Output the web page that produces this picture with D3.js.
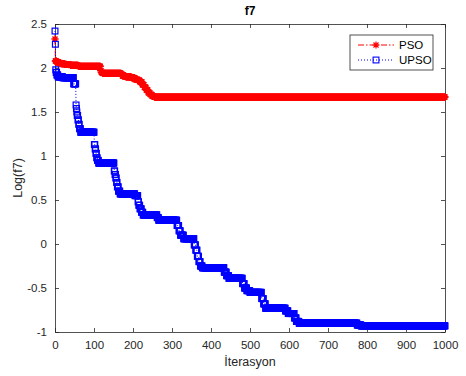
<!DOCTYPE html>
<html>
<head>
<meta charset="utf-8">
<script src="https://cdn.jsdelivr.net/npm/d3@7"></script>
<style>
  body { margin: 0; background: #fff; }
  text { font-family: "Liberation Sans", Arial, sans-serif; }
</style>
</head>
<body>
<div id="chart"></div>
<script>
// best-so-far values, [iteration, log10 value] where the value changes
const psoSteps = [
  [0, 2.33], [1, 2.08], [4, 2.07], [8, 2.06], [15, 2.05], [25, 2.04], [40, 2.03],
  [60, 2.02], [117, 1.97], [119, 1.95], [122, 1.94], [170, 1.93], [173, 1.91],
  [182, 1.9], [196, 1.89], [205, 1.87], [212, 1.86], [218, 1.84], [224, 1.81],
  [229, 1.78], [234, 1.75], [239, 1.72], [244, 1.7], [249, 1.68], [255, 1.67]
];
const upsoSteps = [
  [0, 2.42], [1, 2.27], [2, 1.98], [3, 1.95], [5, 1.92], [8, 1.9], [20, 1.89],
  [48, 1.82], [54, 1.58], [55, 1.54], [56, 1.5], [57, 1.46], [59, 1.41],
  [61, 1.36], [63, 1.31], [66, 1.27], [101, 1.13], [103, 1.08], [105, 1.03],
  [107, 0.98], [109, 0.95], [112, 0.92], [152, 0.83], [154, 0.79], [156, 0.75],
  [158, 0.7], [160, 0.65], [163, 0.6], [167, 0.57], [205, 0.55], [213, 0.48],
  [215, 0.44], [218, 0.4], [222, 0.36], [226, 0.33], [262, 0.3], [266, 0.27],
  [313, 0.21], [318, 0.15], [322, 0.1], [330, 0.06], [357, -0.01], [361, -0.07],
  [365, -0.14], [369, -0.2], [373, -0.25], [378, -0.27], [434, -0.32],
  [440, -0.36], [446, -0.39], [481, -0.45], [486, -0.5], [492, -0.53],
  [500, -0.55], [530, -0.62], [535, -0.68], [540, -0.73], [591, -0.76],
  [598, -0.79], [614, -0.84], [619, -0.88], [626, -0.9], [775, -0.92], [785, -0.93]
];
const lastIter = 1000;
const xTicks = [0, 100, 200, 300, 400, 500, 600, 700, 800, 900, 1000];
const yTicks = [-1, -0.5, 0, 0.5, 1, 1.5, 2, 2.5];
const seriesNames = ['PSO', 'UPSO'];

// hold each best value until the next change
function expand(steps) {
  const out = [];
  let k = 0;
  for (let i = 0; i <= lastIter; i++) {
    while (k + 1 < steps.length && steps[k + 1][0] <= i) k++;
    out.push({ x: i, y: steps[k][1] });
  }
  return out;
}
const pso = expand(psoSteps);
const upso = expand(upsoSteps);

const W = 466, H = 376;
const margin = { top: 24, right: 21, bottom: 44, left: 55 };
const width = W - margin.left - margin.right;
const height = H - margin.top - margin.bottom;
const axisColor = '#262626';

const svg = d3.select('#chart').append('svg').attr('width', W).attr('height', H);
const g = svg.append('g').attr('transform', `translate(${margin.left},${margin.top})`);

const x = d3.scaleLinear().domain([0, 1000]).range([0, width]);
const y = d3.scaleLinear().domain([-1, 2.5]).range([height, 0]);

const fmt = d => String(d);

const xAxis = g.append('g').attr('transform', `translate(0,${height})`)
  .call(d3.axisBottom(x).tickValues(xTicks).tickSizeInner(-4).tickSizeOuter(0).tickPadding(9).tickFormat(fmt));
const yAxis = g.append('g')
  .call(d3.axisLeft(y).tickValues(yTicks).tickSizeInner(-4).tickSizeOuter(0).tickPadding(8).tickFormat(fmt));
const xTop = g.append('g')
  .call(d3.axisTop(x).tickValues(xTicks).tickSizeInner(-4).tickSizeOuter(0).tickFormat(''));
const yRight = g.append('g').attr('transform', `translate(${width},0)`)
  .call(d3.axisRight(y).tickValues(yTicks).tickSizeInner(-4).tickSizeOuter(0).tickFormat(''));

[xAxis, yAxis, xTop, yRight].forEach(a => {
  a.selectAll('path, line').attr('stroke', axisColor).attr('stroke-width', 0.8);
  a.selectAll('text').attr('fill', axisColor).style('font-size', '11.5px');
});

// lines
const line = d3.line().x(d => x(d.x)).y(d => y(d.y));
g.append('path').datum(pso).attr('d', line).attr('fill', 'none')
  .attr('stroke', '#ff0000').attr('stroke-width', 1).attr('stroke-dasharray', '6,2,1.5,2');
g.append('path').datum(upso).attr('d', line).attr('fill', 'none')
  .attr('stroke', '#0000ff').attr('stroke-width', 1).attr('stroke-dasharray', '1,2');

// markers
const r = 3.6;
const starPath = `M${-r},0H${r}M0,${-r}V${r}M${-r * 0.7},${-r * 0.7}L${r * 0.7},${r * 0.7}M${-r * 0.7},${r * 0.7}L${r * 0.7},${-r * 0.7}`;
g.append('g').selectAll('path').data(pso).enter().append('path')
  .attr('transform', d => `translate(${x(d.x)},${y(d.y)})`)
  .attr('d', starPath).attr('stroke', '#ff0000').attr('stroke-width', 1.4).attr('fill', 'none');

const s = 5.8;
g.append('g').selectAll('rect').data(upso).enter().append('rect')
  .attr('x', d => x(d.x) - s / 2).attr('y', d => y(d.y) - s / 2)
  .attr('width', s).attr('height', s)
  .attr('fill', 'none').attr('stroke', '#0000ff').attr('stroke-width', 1.2);

// title and labels
svg.append('text').attr('x', margin.left + width / 2).attr('y', 15)
  .attr('text-anchor', 'middle').style('font-size', '12px').style('font-weight', 'bold')
  .attr('fill', '#000').text('f7');
svg.append('text').attr('x', margin.left + width / 2).attr('y', 366)
  .attr('text-anchor', 'middle').style('font-size', '12.5px').attr('fill', axisColor).text('İterasyon');
svg.append('text').attr('transform', `translate(22,${margin.top + height / 2}) rotate(-90)`)
  .attr('text-anchor', 'middle').style('font-size', '12.5px').attr('fill', axisColor).text('Log(f7)');

// legend
const lg = svg.append('g').attr('transform', 'translate(350,35)');
lg.append('rect').attr('width', 83).attr('height', 35).attr('fill', '#fff')
  .attr('stroke', axisColor).attr('stroke-width', 0.8);
const legendItems = [
  { name: seriesNames[0], color: '#ff0000', dash: '6,2,1.5,2', marker: 'star' },
  { name: seriesNames[1], color: '#0000ff', dash: '1,2', marker: 'square' }
];
legendItems.forEach((it, i) => {
  const cy = 10 + i * 15;
  lg.append('line').attr('x1', 8).attr('x2', 44).attr('y1', cy).attr('y2', cy)
    .attr('stroke', it.color).attr('stroke-width', 1).attr('stroke-dasharray', it.dash);
  if (it.marker === 'star') {
    lg.append('path').attr('transform', `translate(26,${cy})`).attr('d', starPath)
      .attr('stroke', it.color).attr('stroke-width', 1.2);
  } else {
    lg.append('rect').attr('x', 26 - s / 2).attr('y', cy - s / 2).attr('width', s).attr('height', s)
      .attr('fill', 'none').attr('stroke', it.color).attr('stroke-width', 1.1);
  }
  lg.append('text').attr('x', 49).attr('y', cy + 4).style('font-size', '11.5px')
    .attr('fill', '#000').text(it.name);
});
</script>
</body>
</html>
